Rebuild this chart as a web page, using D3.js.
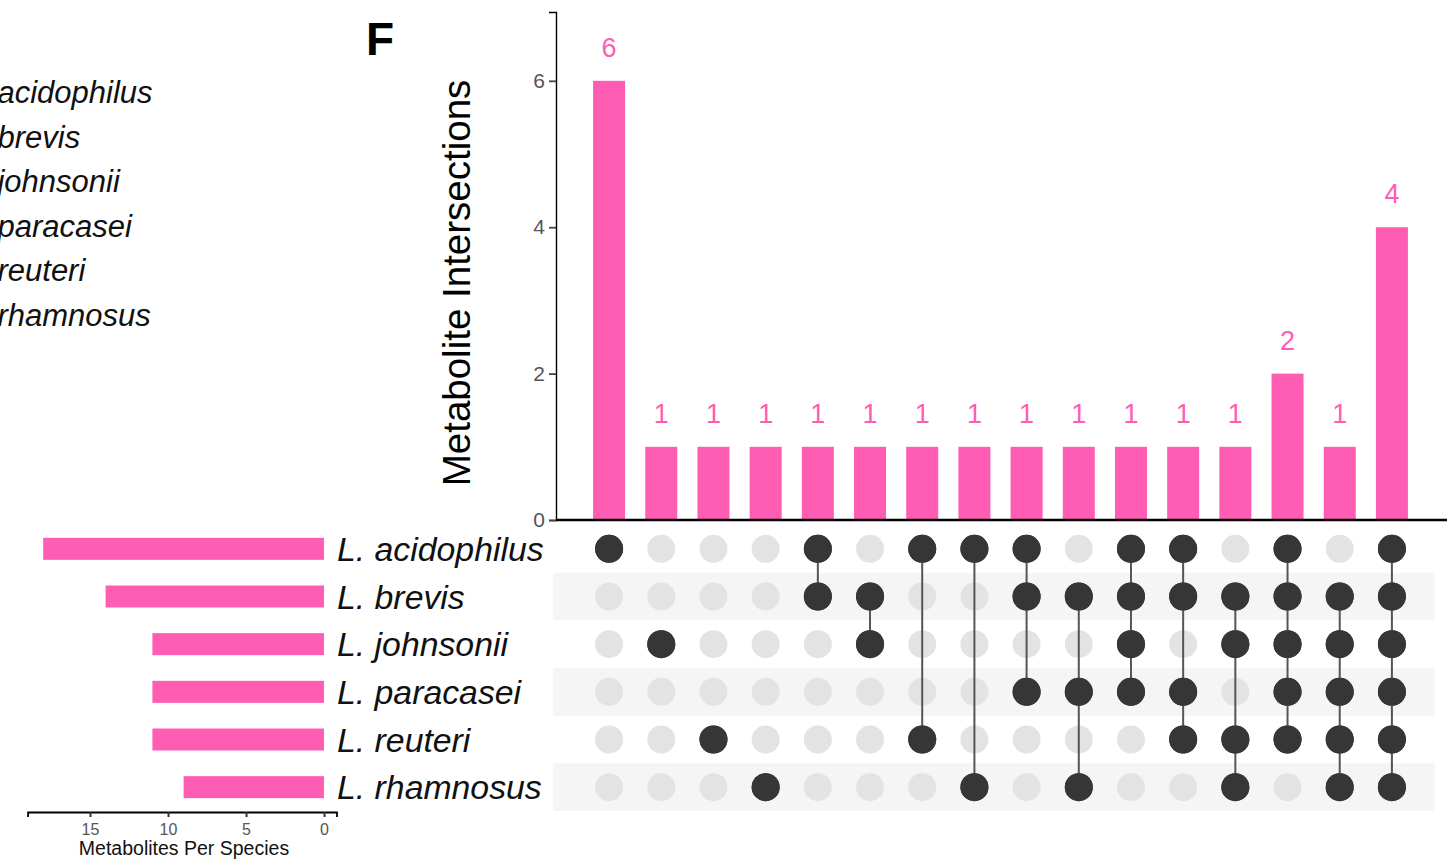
<!DOCTYPE html>
<html>
<head>
<meta charset="utf-8">
<script src="https://cdn.jsdelivr.net/npm/d3@7"></script>
<style>
body { margin: 0; background: #fff; }
svg { display: block; font-family: "Liberation Sans", Arial, sans-serif; }
</style>
</head>
<body>
<svg></svg>
<script>
const width = 1447;
const height = 864;

// data
const species = ["L. acidophilus", "L. brevis", "L. johnsonii", "L. paracasei", "L. reuteri", "L. rhamnosus"];
const setSizes = [18, 14, 11, 11, 11, 9];
const intersectionCounts = [6, 1, 1, 1, 1, 1, 1, 1, 1, 1, 1, 1, 1, 2, 1, 4];
// members of each intersection (index into species)
const intersectionSets = [
	[0], [2], [4], [5], [0, 1], [1, 2], [0, 4], [0, 5],
	[0, 1, 3], [1, 3, 5], [0, 1, 2, 3], [0, 1, 3, 4], [1, 2, 4, 5],
	[0, 1, 2, 3, 4], [1, 2, 3, 4, 5], [0, 1, 2, 3, 4, 5]
];
const countTicks = [0, 2, 4, 6];
const sizeTicks = [0, 5, 10, 15];

const pink = "#ff5cb4";
const dark = "#363636";
const light = "#e3e3e3";

const svg = d3.select("svg").attr("width", width).attr("height", height);

// legend of the neighbouring panel, cut off at the left edge as in the figure
svg.append("g")
	.selectAll("text")
	.data(species)
	.enter()
	.append("text")
	.attr("x", -37)
	.attr("y", (d, i) => 103 + i * 44.6)
	.attr("font-size", 31)
	.attr("font-style", "italic")
	.attr("fill", "#111")
	.text((d) => d);

svg.append("text")
	.attr("x", 366)
	.attr("y", 55)
	.attr("font-size", 46)
	.attr("font-weight", "bold")
	.text("F");

// scales
const cols = d3.range(intersectionCounts.length);
const x = d3.scalePoint().domain(cols).range([583, 1418]).padding(0.5);
const y = d3.scaleLinear().domain([0, 6.94]).range([520, 12]);
const row = d3.scaleBand().domain(d3.range(species.length)).range([525, 811]);
const sx = d3.scaleLinear().domain([-0.8, 19]).range([336.5, 27.6]);
const barW = 32;

// y axis
const yAxis = svg.append("g")
	.attr("transform", "translate(556,0)")
	.call(d3.axisLeft(y).tickValues(countTicks).tickFormat(d3.format("d")).tickSizeOuter(0).tickSize(7).tickPadding(4));
yAxis.attr("font-size", null).attr("font-family", null);
yAxis.select(".domain").attr("stroke", "#000").attr("stroke-width", 1.4);
yAxis.selectAll(".tick line").attr("stroke", "#444").attr("stroke-width", 1.8);
yAxis.selectAll(".tick text").style("font-size", "21px").attr("fill", "#555");

svg.append("text")
	.attr("transform", "translate(470,283) rotate(-90)")
	.attr("text-anchor", "middle")
	.attr("font-size", 38.5)
	.text("Metabolite Intersections");

// intersection bars
svg.append("g")
	.selectAll("rect")
	.data(intersectionCounts)
	.enter()
	.append("rect")
	.attr("x", (d, i) => x(i) - barW / 2)
	.attr("y", (d) => y(d))
	.attr("width", barW)
	.attr("height", (d) => y(0) - y(d))
	.attr("fill", pink);

svg.append("g")
	.selectAll("text")
	.data(intersectionCounts)
	.enter()
	.append("text")
	.attr("x", (d, i) => x(i))
	.attr("y", (d) => y(d) - 24)
	.attr("text-anchor", "middle")
	.attr("font-size", 27)
	.attr("fill", pink)
	.text((d) => d);

svg.append("line")
	.attr("x1", 556).attr("x2", width)
	.attr("y1", y(0)).attr("y2", y(0))
	.attr("stroke", "#000")
	.attr("stroke-width", 2.5);

// matrix
svg.append("g")
	.selectAll("rect")
	.data(d3.range(species.length).filter((i) => i % 2 === 1))
	.enter()
	.append("rect")
	.attr("x", 553)
	.attr("y", (d) => row(d))
	.attr("width", 882)
	.attr("height", row.bandwidth())
	.attr("fill", "#f5f5f5");

const cy = (i) => row(i) + row.bandwidth() / 2;

svg.append("g")
	.selectAll("circle")
	.data(cols.flatMap((c) => species.map((s, r) => ({ c, r, on: intersectionSets[c].includes(r) }))))
	.enter()
	.append("circle")
	.attr("cx", (d) => x(d.c))
	.attr("cy", (d) => cy(d.r))
	.attr("r", 14)
	.attr("fill", (d) => (d.on ? dark : light));

svg.append("g")
	.selectAll("line")
	.data(cols.filter((c) => intersectionSets[c].length > 1))
	.enter()
	.append("line")
	.attr("x1", (c) => x(c)).attr("x2", (c) => x(c))
	.attr("y1", (c) => cy(d3.min(intersectionSets[c])))
	.attr("y2", (c) => cy(d3.max(intersectionSets[c])))
	.attr("stroke", "#555")
	.attr("stroke-width", 2);

svg.append("g")
	.selectAll("circle")
	.data(cols.flatMap((c) => intersectionSets[c].map((r) => ({ c, r }))))
	.enter()
	.append("circle")
	.attr("cx", (d) => x(d.c))
	.attr("cy", (d) => cy(d.r))
	.attr("r", 14)
	.attr("fill", dark);

// set labels
svg.append("g")
	.selectAll("text")
	.data(species)
	.enter()
	.append("text")
	.attr("x", 337)
	.attr("y", (d, i) => cy(i) + 12)
	.attr("font-size", 33.8)
	.attr("font-style", "italic")
	.attr("fill", "#111")
	.text((d) => d);

// set size bars
svg.append("g")
	.selectAll("rect")
	.data(setSizes)
	.enter()
	.append("rect")
	.attr("x", (d) => sx(d))
	.attr("y", (d, i) => cy(i) - 11)
	.attr("width", (d) => sx(0) - sx(d))
	.attr("height", 22)
	.attr("fill", pink);

const sAxis = svg.append("g")
	.attr("transform", "translate(0,812)")
	.call(d3.axisBottom(sx).tickValues(sizeTicks).tickSizeOuter(0).tickSize(5).tickPadding(7));
sAxis.attr("font-size", null).attr("font-family", null);
sAxis.select(".domain").attr("stroke", "#000").attr("stroke-width", 1.8);
sAxis.selectAll(".tick line").attr("stroke", "#333").attr("stroke-width", 2);
sAxis.selectAll(".tick text").style("font-size", "16px").attr("fill", "#555");

svg.append("text")
	.attr("x", 184)
	.attr("y", 855)
	.attr("text-anchor", "middle")
	.attr("font-size", 19.5)
	.attr("fill", "#111")
	.text("Metabolites Per Species");
</script>
</body>
</html>
